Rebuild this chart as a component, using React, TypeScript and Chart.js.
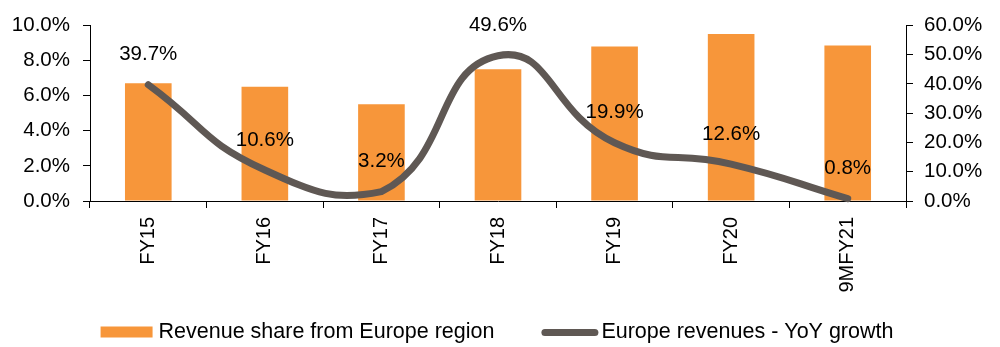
import React, { useEffect, useRef } from "react";
import { Chart, registerables } from "chart.js";

Chart.register(...registerables);

const categories = ["FY15", "FY16", "FY17", "FY18", "FY19", "FY20", "9MFY21"];
const revenueShare = [6.7, 6.5, 5.5, 7.5, 8.8, 9.5, 8.85];
const yoyGrowth = [39.7, 10.6, 3.2, 49.6, 19.9, 12.6, 0.8];
const barLabel = "Revenue share from Europe region";
const lineLabel = "Europe revenues - YoY growth";

const ORANGE = "#F7963A";
const GREY = "#5F5854";
const SANS = "'Liberation Sans', Arial, sans-serif";

const dataLabelPlugin = {
  id: "dataLabels",
  afterDatasetsDraw(chart: any) {
    const meta = chart.getDatasetMeta(1);
    const ctx = chart.ctx;
    ctx.save();
    ctx.fillStyle = "#000";
    ctx.font = `20.5px ${SANS}`;
    ctx.textAlign = "center";
    ctx.textBaseline = "middle";
    meta.data.forEach((pt: any, i: number) => {
      ctx.fillText(yoyGrowth[i].toFixed(1) + "%", pt.x, pt.y - 30);
    });
    ctx.restore();
  },
};

const legendPlugin = {
  id: "customLegend",
  afterDraw(chart: any) {
    const ctx = chart.ctx;
    ctx.save();
    ctx.font = `21.5px ${SANS}`;
    ctx.textBaseline = "middle";
    ctx.fillStyle = "#000";
    const w1 = ctx.measureText(barLabel).width;
    const w2 = ctx.measureText(lineLabel).width;
    const total = 52 + 6 + w1 + 47 + 57 + 3 + w2;
    let x = chart.width / 2 - 3 - total / 2;
    const cy = 332;
    ctx.fillStyle = ORANGE;
    ctx.fillRect(x, cy - 5.5, 52, 11);
    x += 52 + 6;
    ctx.fillStyle = "#000";
    ctx.fillText(barLabel, x, cy);
    x += w1 + 47;
    ctx.strokeStyle = GREY;
    ctx.lineWidth = 7;
    ctx.lineCap = "round";
    ctx.beginPath();
    ctx.moveTo(x + 3.5, cy + 0.5);
    ctx.lineTo(x + 57 - 3.5, cy + 0.5);
    ctx.stroke();
    x += 57 + 3;
    ctx.fillText(lineLabel, x, cy);
    ctx.restore();
  },
};

export default function App() {
  const ref = useRef<HTMLCanvasElement | null>(null);
  useEffect(() => {
    document.body.style.margin = "0";
    if (!ref.current) return;
    const chart = new Chart(ref.current, {
      type: "bar",
      data: {
        labels: categories,
        datasets: [
          {
            type: "bar",
            label: barLabel,
            data: revenueShare,
            backgroundColor: ORANGE,
            categoryPercentage: 1,
            barPercentage: 0.4,
            yAxisID: "y",
            order: 1,
          },
          {
            type: "line",
            label: lineLabel,
            data: yoyGrowth,
            borderColor: GREY,
            backgroundColor: GREY,
            borderWidth: 7,
            borderCapStyle: "round",
            borderJoinStyle: "round",
            tension: 0.5,
            pointRadius: 0,
            pointHoverRadius: 0,
            yAxisID: "y1",
            order: 0,
            clip: false,
          } as any,
        ],
      },
      options: {
        responsive: false,
        animation: false,
        events: [],
        layout: { padding: { top: 18, bottom: 46, left: 0, right: 0 } },
        plugins: {
          legend: { display: false },
          tooltip: { enabled: false },
        },
        scales: {
          x: {
            grid: {
              display: true,
              drawOnChartArea: false,
              drawTicks: true,
              tickLength: 7,
              color: "#000",
              offset: true,
            },
            border: { display: true, color: "#000", width: 1 },
            ticks: {
              maxRotation: 90,
              minRotation: 90,
              padding: 9,
              color: "#000",
              font: { family: SANS, size: 20 },
            },
            afterFit(scale: any) {
              scale.height = 100;
            },
          },
          y: {
            position: "left",
            min: 0,
            max: 10,
            grid: {
              display: true,
              drawOnChartArea: false,
              drawTicks: true,
              tickLength: 7,
              color: "#000",
            },
            border: { display: true, color: "#000", width: 1 },
            ticks: {
              stepSize: 2,
              padding: 13,
              color: "#000",
              font: { family: SANS, size: 20.5 },
              callback: (v: any) => Number(v).toFixed(1) + "%",
            },
            afterFit(scale: any) {
              scale.width = 90;
            },
          },
          y1: {
            position: "right",
            min: 0,
            max: 60,
            grid: {
              display: true,
              drawOnChartArea: false,
              drawTicks: true,
              tickLength: 7,
              color: "#000",
            },
            border: { display: true, color: "#000", width: 1 },
            ticks: {
              stepSize: 10,
              padding: 11,
              color: "#000",
              font: { family: SANS, size: 20.5 },
              callback: (v: any) => Number(v).toFixed(1) + "%",
            },
            afterFit(scale: any) {
              scale.width = 94;
            },
          },
        },
      },
      plugins: [dataLabelPlugin, legendPlugin],
    });
    return () => chart.destroy();
  }, []);
  return (
    <div style={{ width: 1000, height: 347, background: "#fff" }}>
      <canvas ref={ref} width={1000} height={347} style={{ display: "block" }} />
    </div>
  );
}
